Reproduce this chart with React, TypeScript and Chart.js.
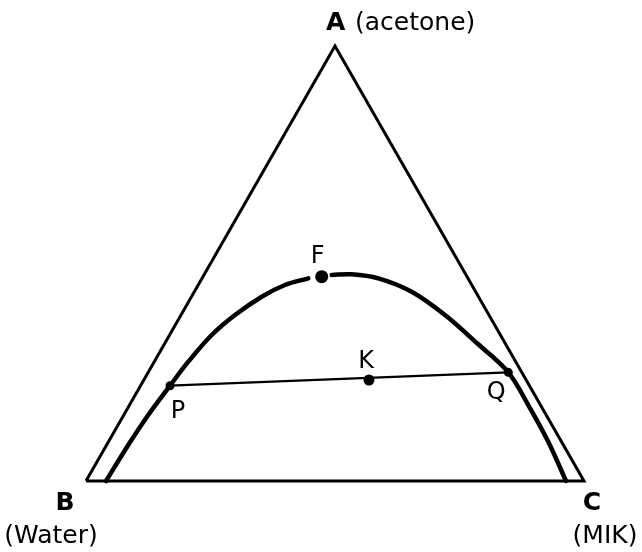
import React, { useEffect, useRef } from "react";
import { Chart, registerables } from "chart.js";

Chart.register(...registerables);

// Compositions are mass fractions: acetone (A) and MIK (C); water (B) is the remainder.
const SQRT3_2 = Math.sqrt(3) / 2;

// Triangle vertices B (water), C (MIK), A (acetone)
const vertexAcetone = [0, 0, 1];
const vertexMik = [0, 1, 0];

// Binodal curve, water-rich branch up to the plait point region
const leftAcetone = [0.0, 0.0828, 0.1517, 0.2191, 0.2743, 0.3356, 0.3816, 0.4237, 0.4506, 0.466];
const leftMik = [0.0402, 0.0435, 0.0492, 0.0592, 0.0683, 0.0846, 0.1084, 0.141, 0.1743, 0.2134];

// Binodal curve, MIK-rich branch
const rightAcetone = [0.4736, 0.4752, 0.466, 0.4352, 0.3816, 0.3149, 0.2499, 0.1747, 0.0903, 0.0];
const rightMik = [0.2566, 0.2959, 0.354, 0.4364, 0.5301, 0.6296, 0.723, 0.8008, 0.8831, 0.9639];

// Marked points: F (plait point), K (mixture), P and Q (tie-line ends)
const pointNames = ["F", "K", "P", "Q"];
const pointAcetone = [0.4697, 0.2322, 0.2191, 0.2499];
const pointMik = [0.2385, 0.4522, 0.0592, 0.723];

const toXY = (a: number, c: number) => ({ x: c + a / 2, y: a * SQRT3_2 });

const FONT = "'DejaVu Sans', sans-serif";

const labelPlugin = {
  id: "ternaryLabels",
  afterDatasetsDraw(chart: any) {
    const { ctx, scales } = chart;
    const px = (p: { x: number; y: number }) => ({
      x: scales.x.getPixelForValue(p.x),
      y: scales.y.getPixelForValue(p.y),
    });
    const A = px(toXY(vertexAcetone[2], vertexMik[2]));
    const B = px(toXY(vertexAcetone[0], vertexMik[0]));
    const C = px(toXY(vertexAcetone[1], vertexMik[1]));

    ctx.save();
    ctx.fillStyle = "#000";
    ctx.textBaseline = "alphabetic";

    // Vertex labels
    ctx.textAlign = "left";
    ctx.font = `bold 25px ${FONT}`;
    ctx.fillText("A", A.x - 9, A.y - 16);
    ctx.font = `25px ${FONT}`;
    ctx.fillText("(acetone)", A.x + 20, A.y - 16);

    ctx.textAlign = "center";
    ctx.font = `bold 25px ${FONT}`;
    ctx.fillText("B", B.x - 21, B.y + 29);
    ctx.fillText("C", C.x + 8, C.y + 29);
    ctx.font = `25px ${FONT}`;
    ctx.fillText("(Water)", B.x - 35, B.y + 62);
    ctx.fillText("(MIK)", C.x + 21, C.y + 62);

    // Point labels
    const offsets = [
      [-4, -14],
      [-3, -12],
      [8, 32],
      [-12, 27],
    ];
    ctx.font = `24px ${FONT}`;
    pointNames.forEach((name, i) => {
      const p = px(toXY(pointAcetone[i], pointMik[i]));
      ctx.fillText(name, p.x + offsets[i][0], p.y + offsets[i][1]);
    });
    ctx.restore();
  },
};

export default function App() {
  const canvasRef = useRef<HTMLCanvasElement | null>(null);

  useEffect(() => {
    if (!canvasRef.current) return;

    const triangle = [0, 1, 2, 0].map((i) => toXY(vertexAcetone[i], vertexMik[i]));
    const left = leftAcetone.map((a, i) => toXY(a, leftMik[i]));
    const right = rightAcetone.map((a, i) => toXY(a, rightMik[i]));
    const P = toXY(pointAcetone[2], pointMik[2]);
    const Q = toXY(pointAcetone[3], pointMik[3]);
    const marks = pointAcetone.map((a, i) => toXY(a, pointMik[i]));

    const curve = {
      showLine: true,
      borderColor: "#000",
      borderWidth: 4.5,
      borderCapStyle: "round" as const,
      pointRadius: 0,
      tension: 0.35,
      clip: false as any,
    };

    const chart = new Chart(canvasRef.current, {
      type: "scatter",
      data: {
        datasets: [
          {
            data: triangle,
            showLine: true,
            borderColor: "#000",
            borderWidth: 3,
            pointRadius: 0,
            tension: 0,
            clip: false as any,
          },
          { data: left, ...curve },
          { data: right, ...curve },
          {
            data: [P, Q],
            showLine: true,
            borderColor: "#000",
            borderWidth: 2.2,
            pointRadius: 0,
            tension: 0,
            clip: false as any,
          },
          {
            data: marks,
            showLine: false,
            backgroundColor: "#000",
            borderColor: "#000",
            borderWidth: 0,
            pointRadius: [6.5, 5.5, 4.5, 4.5],
            clip: false as any,
          },
        ],
      },
      options: {
        animation: false,
        responsive: false,
        layout: { padding: 0, autoPadding: false },
        plugins: {
          legend: { display: false },
          tooltip: { enabled: false },
        },
        scales: {
          x: { type: "linear", display: false, min: -0.1727, max: 1.1165 },
          y: { type: "linear", display: false, min: -0.1413, max: 0.9576 },
        },
      },
      plugins: [labelPlugin],
    });

    return () => chart.destroy();
  }, []);

  return (
    <div style={{ position: "absolute", left: 0, top: 0, width: 642, height: 552, background: "#fff" }}>
      <canvas ref={canvasRef} width={642} height={552} />
    </div>
  );
}
